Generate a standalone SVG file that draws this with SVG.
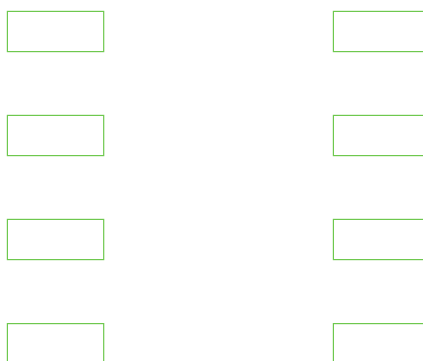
<svg xmlns="http://www.w3.org/2000/svg" width="423" height="361" viewBox="0 0 423 361">
<style>
.n{fill:#ffffff;stroke:#6ec84e;stroke-width:1.2}
</style>
<rect width="423" height="361" fill="#ffffff"/>
<g id="connectors"></g>
<g id="node-l1"><rect class="n" x="7.4" y="11.4" width="96.3" height="40.2"/></g>
<g id="node-l2"><rect class="n" x="7.4" y="115.4" width="96.3" height="40.2"/></g>
<g id="node-l3"><rect class="n" x="7.4" y="219.4" width="96.3" height="40.2"/></g>
<g id="node-l4"><rect class="n" x="7.4" y="323.6" width="96.3" height="40.2"/></g>
<g id="node-r1"><rect class="n" x="333.4" y="11.4" width="96.3" height="40.2"/></g>
<g id="node-r2"><rect class="n" x="333.4" y="115.4" width="96.3" height="40.2"/></g>
<g id="node-r3"><rect class="n" x="333.4" y="219.4" width="96.3" height="40.2"/></g>
<g id="node-r4"><rect class="n" x="333.4" y="323.6" width="96.3" height="40.2"/></g>
</svg>
